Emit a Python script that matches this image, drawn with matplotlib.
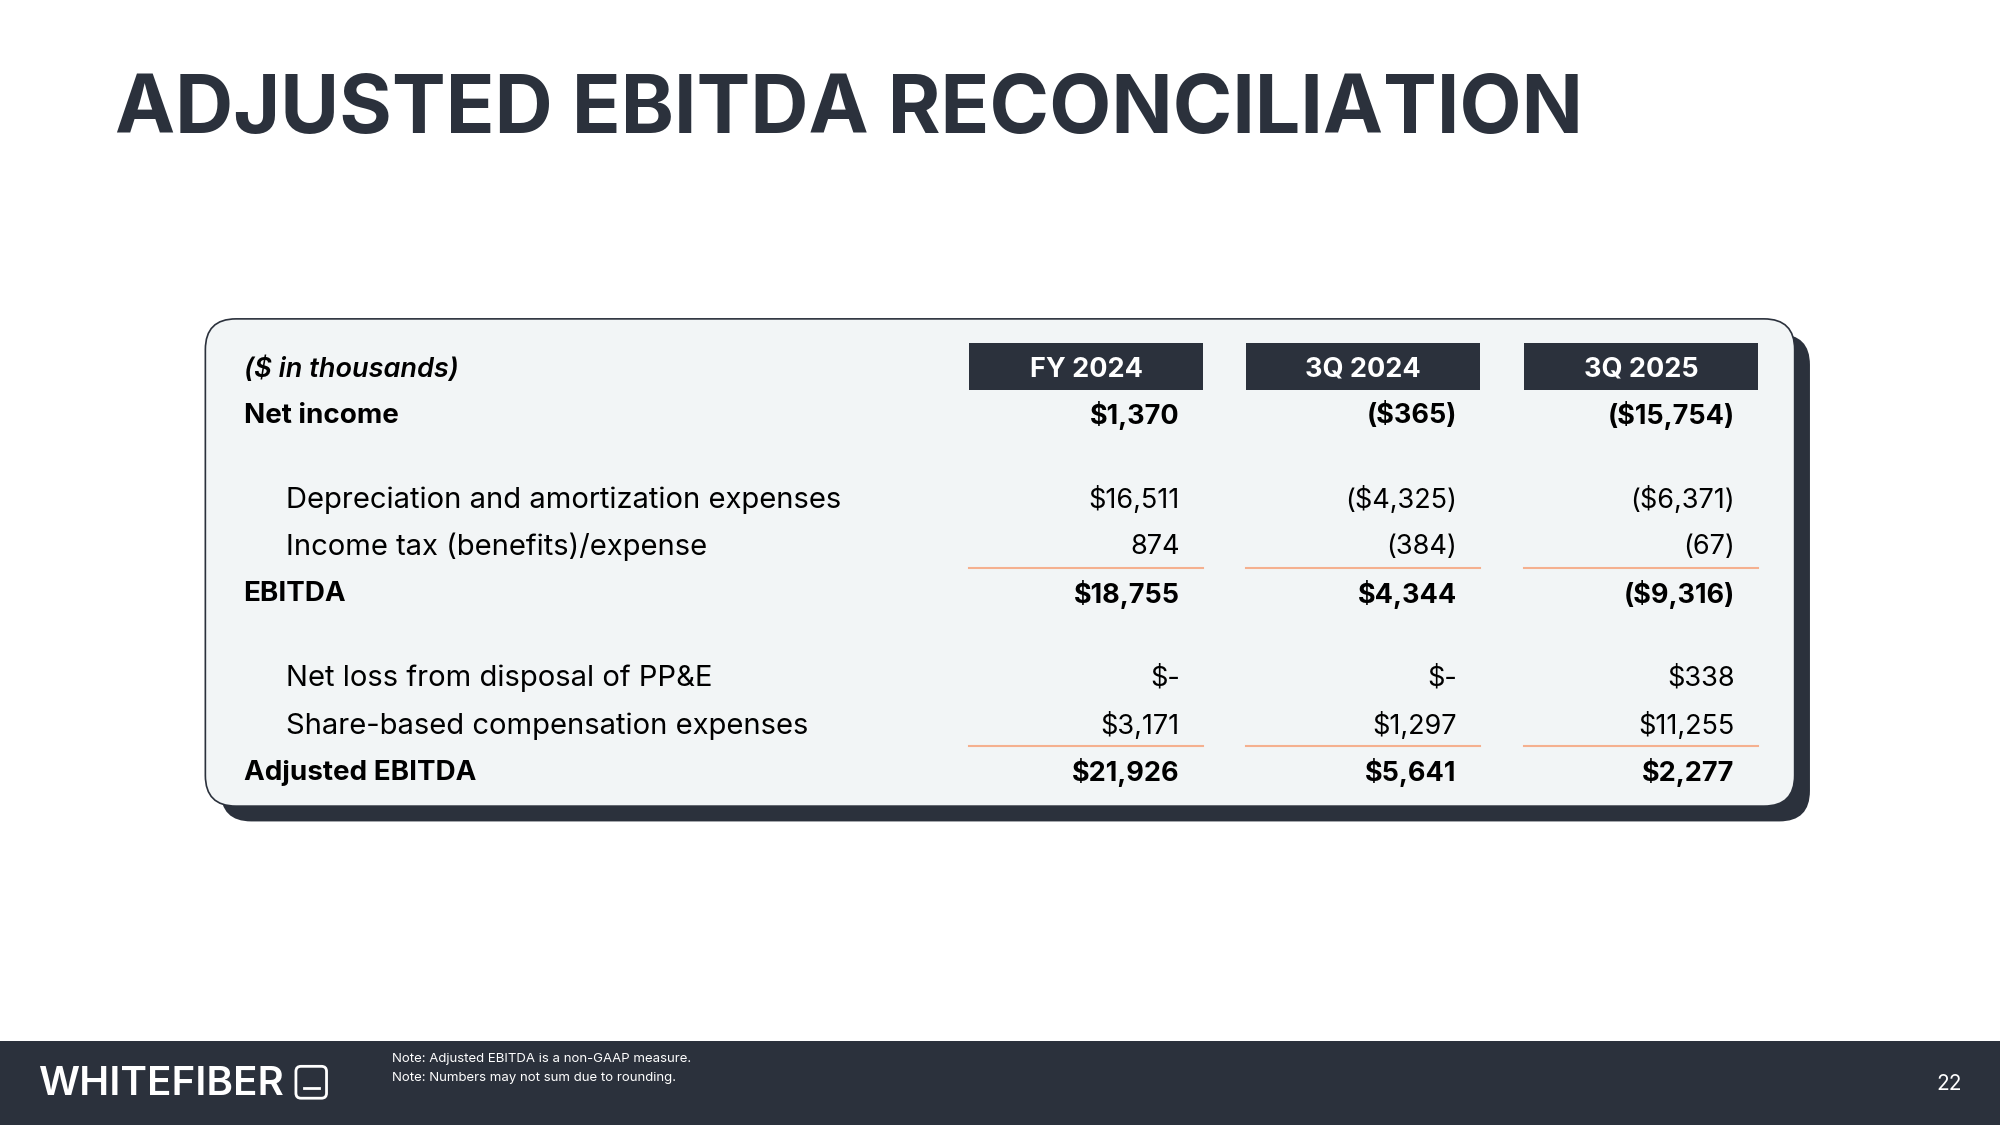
from matplotlib import pyplot as plt
from matplotlib.patches import FancyBboxPatch, Rectangle

plt.rcParams['font.family'] = ['Inter', 'DejaVu Sans']

navy = '#2b313c'
card = '#f2f5f6'
orange = '#f5b08f'

cols = ['FY 2024', '3Q 2024', '3Q 2025']
col_right = [925, 1142, 1360]
col_box = [760, 977, 1195]

# label, values, bold, indent, y
rows = [
    ('Net income', ['$1,370', '($365)', '($15,754)'], True, False, 326),
    ('Depreciation and amortization expenses', ['$16,511', '($4,325)', '($6,371)'], False, True, 392),
    ('Income tax (benefits)/expense', ['874', '(384)', '(67)'], False, True, 429),
    ('EBITDA', ['$18,755', '$4,344', '($9,316)'], True, False, 466),
    ('Net loss from disposal of PP&E', ['$-', '$-', '$338'], False, True, 532),
    ('Share-based compensation expenses', ['$3,171', '$1,297', '$11,255'], False, True, 569),
    ('Adjusted EBITDA', ['$21,926', '$5,641', '$2,277'], True, False, 606),
]
rule_y = [445, 585]

fig = plt.figure(figsize=(20, 11.25), dpi=100)
ax = fig.add_axes([0, 0, 1, 1])
ax.set_xlim(0, 1568)
ax.set_ylim(882, 0)
ax.axis('off')

ax.text(90, 88, 'ADJUSTED EBITDA RECONCILIATION', fontsize=58, fontweight='bold',
        color=navy, va='center', ha='left')

# card with shadow
ax.add_patch(FancyBboxPatch((173, 262), 1246, 382, boxstyle='round,pad=0,rounding_size=24',
                            fc=navy, ec='none'))
ax.add_patch(FancyBboxPatch((161, 250), 1246, 382, boxstyle='round,pad=0,rounding_size=24',
                            fc=card, ec=navy, lw=1.2))

ax.text(191, 290, '($ in thousands)', fontsize=19.5, fontstyle='italic', fontweight='semibold',
        color='black', va='center')
for c, x0, xr in zip(cols, col_box, col_right):
    ax.add_patch(Rectangle((x0, 269), 183, 37, fc=navy, ec='none'))
    ax.text(x0 + 91.5, 290, c, fontsize=19.5, fontweight='bold', color='white',
            ha='center', va='center')
    for y in rule_y:
        ax.plot([x0, x0 + 183], [y, y], color=orange, lw=1.5)

for label, vals, bold, indent, y in rows:
    w = 'bold' if bold else 'normal'
    ax.text(224 if indent else 191, y, label, fontsize=21 if not bold else 20, fontweight=w,
            color='black', va='center')
    for v, xr in zip(vals, col_right):
        ax.text(xr, y, v, fontsize=19.5, fontweight=w, color='black', va='center', ha='right')

# footer
ax.add_patch(Rectangle((0, 816), 1568, 66, fc=navy, ec='none'))
ax.text(30, 850, 'WHITEFIBER', fontsize=29, fontweight='semibold', color='white', va='center')
ax.add_patch(FancyBboxPatch((232, 836), 24, 25, boxstyle='round,pad=0,rounding_size=4',
                            fc='none', ec='white', lw=2))
ax.plot([238, 250], [853, 853], color='white', lw=2)
ax.text(307, 830, 'Note: Adjusted EBITDA is a non-GAAP measure.', fontsize=9.5, color='white', va='center')
ax.text(307, 845, 'Note: Numbers may not sum due to rounding.', fontsize=9.5, color='white', va='center')
ax.text(1538, 850, '22', fontsize=15, color='white', va='center', ha='right')

plt.savefig('out.png')
